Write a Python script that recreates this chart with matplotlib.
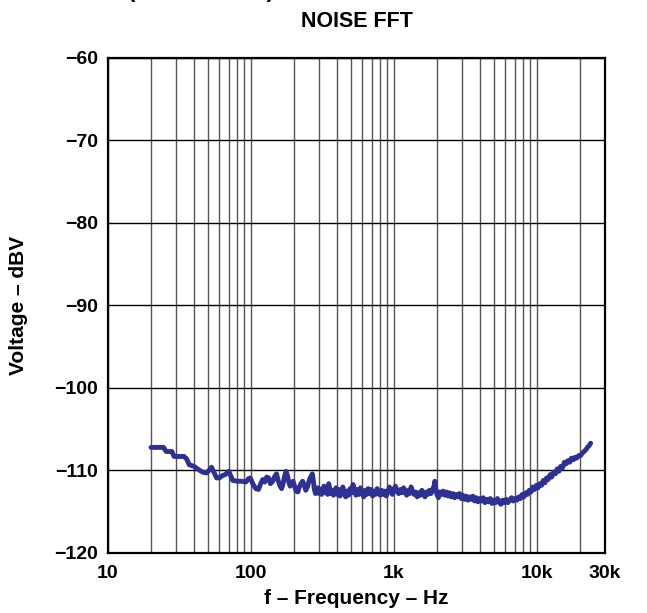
import matplotlib
matplotlib.use('Agg')
import matplotlib.pyplot as plt

plt.rcParams['font.family'] = ['Liberation Sans', 'DejaVu Sans']
plt.rcParams['font.weight'] = 'bold'

# noise spectrum (Hz, dBV)
freq = [20, 22, 24.5, 25.5, 28, 29, 34, 35.5, 37, 40, 43, 46, 49, 51.5, 53, 55, 57.5, 60,
        63.5, 66, 70, 72, 74.5, 80, 86, 92, 96, 99, 103, 108, 113, 117, 121, 125, 129, 133,
        137, 142, 147, 151, 155, 160, 164, 168, 172, 176, 180, 184, 188, 192, 197, 202, 207,
        213, 218, 224, 230, 236, 242, 248, 253, 258, 264, 269, 273, 278, 283, 288, 294, 300,
        306, 312, 318, 324, 330, 337, 344, 350, 357, 364, 371, 378, 386, 394, 402, 410, 420,
        430, 440, 450, 460, 470, 482, 494, 506, 518, 530, 543, 556, 570, 585, 600, 615, 630,
        645, 660, 676, 692, 710, 727, 745, 764, 783, 802, 822, 842, 863, 885, 907, 930, 953,
        977, 1000, 1025, 1050, 1080, 1110, 1140, 1170, 1200, 1230, 1260, 1290, 1320, 1350,
        1385, 1420, 1455, 1490, 1530, 1570, 1610, 1650, 1690, 1730, 1775, 1820, 1865, 1910,
        1935, 1960, 2000, 2050, 2100, 2150, 2210, 2270, 2330, 2390, 2450, 2520, 2590, 2660,
        2730, 2800, 2880, 2960, 3040, 3120, 3200, 3290, 3380, 3470, 3570, 3670, 3770, 3880,
        3990, 4100, 4220, 4340, 4460, 4590, 4720, 4860, 5000, 5150, 5300, 5450, 5600, 5760,
        5930, 6100, 6280, 6460, 6650, 6840, 7040, 7250, 7460, 7680, 7900, 8130, 8370, 8610,
        8860, 9120, 9380, 9650, 9930, 10200, 10500, 10800, 11100, 11400, 11700, 12000, 12400,
        12700, 13100, 13500, 13900, 14300, 14700, 15100, 15600, 16000, 16500, 17000, 17500,
        18000, 18500, 19000, 19600, 20200, 20800, 21400, 22000, 22600, 23200, 23800]
level = [-107.2, -107.2, -107.2, -107.7, -107.7, -108.3, -108.3, -108.6, -109.3, -109.5,
         -109.9, -110.2, -110.3, -109.9, -109.6, -110.2, -110.9, -110.9, -110.6, -110.5,
         -110.1, -110.6, -111.2, -111.3, -111.3, -111.4, -111.0, -110.9, -111.6, -112.2,
         -112.3, -111.6, -111.1, -111.4, -110.8, -110.9, -111.6, -111.3, -110.7, -110.4,
         -111.2, -111.9, -112.2, -111.6, -110.7, -110.1, -110.6, -111.4, -111.9, -111.6,
         -111.3, -111.9, -112.5, -112.6, -112.0, -111.6, -111.3, -111.8, -112.4, -112.0,
         -111.5, -111.0, -110.7, -110.4, -111.2, -112.3, -112.8, -112.6, -112.1, -112.8,
         -112.3, -112.9, -112.5, -111.9, -112.7, -112.2, -112.9, -111.6, -112.3, -112.8,
         -112.4, -113.0, -112.5, -112.1, -112.9, -112.3, -113.1, -112.6, -112.0, -112.8,
         -113.2, -112.5, -113.0, -112.2, -112.7, -111.7, -112.4, -113.0, -112.3, -112.9,
         -112.1, -112.7, -113.2, -112.4, -112.9, -112.2, -112.8, -112.3, -113.1, -112.5,
         -112.9, -112.2, -112.7, -113.0, -112.4, -112.9, -112.5, -113.1, -112.6, -112.0,
         -112.5, -112.9, -112.3, -111.9, -112.5, -112.8, -112.3, -112.7, -112.1, -112.6,
         -113.0, -112.4, -112.8, -112.0, -112.5, -112.9, -112.6, -113.2, -112.7, -113.0,
         -112.4, -112.8, -113.2, -112.6, -112.9, -112.4, -112.8, -112.3, -111.9, -111.3,
         -112.1, -112.9, -113.3, -112.6, -112.9, -112.5, -113.0, -112.6, -113.1, -112.7,
         -113.2, -112.8, -113.3, -112.9, -113.2, -112.8, -113.4, -113.0, -113.5, -113.1,
         -113.6, -113.2, -113.5, -113.1, -113.7, -113.3, -113.8, -113.4, -113.7, -113.3,
         -113.9, -113.5, -113.8, -113.4, -114.0, -113.6, -113.9, -113.4, -113.8, -114.1,
         -113.6, -113.9, -113.5, -113.9, -113.6, -113.3, -113.7, -113.4, -113.6, -113.2,
         -113.4, -112.9, -113.2, -112.7, -112.9, -112.4, -112.6, -112.0, -112.3, -111.8,
         -112.1, -111.6, -111.8, -111.2, -111.5, -110.9, -111.1, -110.5, -110.8, -110.2,
         -110.4, -109.8, -110.1, -109.5, -109.7, -109.0, -109.2, -108.8, -109.0, -108.5,
         -108.7, -108.4, -108.5, -108.2, -108.2, -107.9, -107.7, -107.5, -107.2, -107.0,
         -106.7]

xtick_vals = [10, 100, 1000, 10000, 30000]
xtick_labels = ['10', '100', '1k', '10k', '30k']
minor_vals = [m * d for d in (10, 100, 1000) for m in range(2, 10)] + [20000]
ytick_vals = [-120, -110, -100, -90, -80, -70, -60]

fig = plt.figure(figsize=(6.47, 6.13), dpi=100)
ax = fig.add_axes([0.1669, 0.0979, 0.7682, 0.8075])

ax.plot(freq, level, color='#2d3192', linewidth=3.5, solid_joinstyle='round',
        solid_capstyle='round', zorder=3)

ax.set_xscale('log')
ax.set_xlim(10, 30000)
ax.set_ylim(-120, -60)
ax.set_xticks(xtick_vals)
ax.set_xticklabels(xtick_labels)
ax.set_xticks(minor_vals, minor=True)
ax.set_xticklabels([], minor=True)
ax.set_yticks(ytick_vals)
ax.set_yticklabels([str(v).replace('-', '\u2212') for v in ytick_vals])

ax.tick_params(which='both', length=0, labelsize=14)
ax.tick_params(axis='y', pad=7)
ax.tick_params(axis='x', pad=9)

ax.grid(True, which='major', axis='y', color='black', linewidth=1.0)
ax.grid(True, which='both', axis='x', color='#555555', linewidth=1.0)
ax.set_axisbelow(True)

for s in ax.spines.values():
    s.set_linewidth(1.6)
    s.set_color('black')

ax.set_xlabel('f \u2013 Frequency \u2013 Hz', fontsize=15, fontweight='bold', va='center')
ax.xaxis.set_label_coords(0.5, -0.091)
ax.set_ylabel('Voltage \u2013 dBV', fontsize=15, fontweight='bold', va='center')
ax.yaxis.set_label_coords(-0.181, 0.5)
ax.set_title('NOISE FFT', fontsize=15.5, fontweight='bold', pad=22)

# cut-off heading at the very top of the page
fig.text(0.312, 1 + 2.5 / 613, '(CONTINUED)', fontsize=16, fontweight='bold',
         ha='center', va='baseline')

fig.savefig('out.png', dpi=100, facecolor='white')
